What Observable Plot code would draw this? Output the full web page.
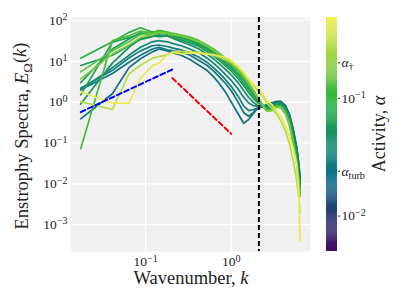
<!DOCTYPE html>
<html><head><meta charset="utf-8">
<script src="https://cdn.jsdelivr.net/npm/d3@7"></script>
<script src="https://cdn.jsdelivr.net/npm/@observablehq/plot@0.6"></script>
<style>
body{margin:0;background:#fff;}
#fig{position:relative;width:407px;height:305px;font-family:"Liberation Serif",serif;}
#fig svg{position:absolute;top:0;overflow:visible;font-family:"Liberation Serif",serif !important;}
#fig svg text{font-family:"Liberation Serif",serif !important;}
</style></head><body><div id="fig"></div>
<script>
// wavenumber grid (shared by all spectra)
const K = [0.0175, 0.041, 0.064, 0.087, 0.12, 0.143, 0.179, 0.21, 0.26, 0.33, 0.42, 0.52, 0.62, 0.72, 0.85, 1.0, 1.2, 1.4, 1.6, 1.8, 2.0, 2.3, 2.6, 3.0, 3.4, 3.8, 4.3, 4.8, 5.3, 5.8, 6.1, 6.35];
// activity of each spectrum
const alphas = [0.021, 0.025, 0.03, 0.036, 0.045, 0.055, 0.065, 0.07, 0.09, 0.12, 0.14, 0.17, 0.28, 0.45];
// enstrophy spectra, one array per activity
const E_021 = [0.39, 1.6, 7, 11.5, 17, 20, 18, 16, 14, 11, 8, 6, 4.2, 2.9, 1.8, 1.0, 0.52, 0.3, 0.38, 0.52, 0.68, 0.8, 0.86, 0.96, 1.04, 1.05, 0.82, 0.48, 0.21, 0.08, 0.035, 0.015];
const E_025 = [2.0, 5.0, 9.5, 14, 20, 22, 19, 18, 17, 14, 10.5, 8, 5.8, 4.2, 2.9, 1.9, 1.0, 0.55, 0.45, 0.55, 0.68, 0.78, 0.85, 0.95, 1.02, 1.03, 0.8, 0.46, 0.2, 0.075, 0.032, 0.013];
const E_030 = [2.2, 6, 12, 18, 24, 25, 23, 21, 19, 16, 12.5, 9.5, 7, 5.2, 3.6, 2.4, 1.4, 0.8, 0.62, 0.65, 0.72, 0.78, 0.84, 0.92, 1.0, 1.0, 0.78, 0.45, 0.19, 0.07, 0.03, 0.012];
const E_036 = [2.0, 7, 14, 22, 30, 32, 30, 27, 24, 20, 16, 12, 9, 6.8, 4.8, 3.4, 2.1, 1.3, 0.95, 0.82, 0.8, 0.78, 0.8, 0.88, 0.98, 0.96, 0.74, 0.42, 0.17, 0.06, 0.025, 0.01];
const E_045 = [0.9, 9, 22, 36, 42, 40, 42, 36, 30, 25, 20, 15, 11.5, 8.8, 6.4, 4.6, 3.0, 1.9, 1.3, 1.0, 0.85, 0.75, 0.72, 0.8, 0.92, 0.9, 0.7, 0.38, 0.15, 0.05, 0.02, 0.008];
const E_055 = [7.9, 14, 24, 34, 40, 44, 41, 38, 33, 28, 23, 17.5, 13.5, 10.5, 7.8, 5.7, 3.8, 2.5, 1.7, 1.25, 1.0, 0.8, 0.7, 0.78, 0.9, 0.88, 0.66, 0.36, 0.13, 0.045, 0.018, 0.007];
const E_065 = [3.0, 20, 35, 50, 45, 48, 46, 42, 36, 31, 25, 19.5, 15, 11.8, 8.8, 6.5, 4.4, 2.9, 2.0, 1.45, 1.1, 0.82, 0.68, 0.75, 0.88, 0.86, 0.64, 0.35, 0.125, 0.042, 0.017, 0.0065];
const E_070 = [1.5, 29.5, 38, 46, 53, 48, 50, 45, 38, 33, 27, 21, 16.5, 13, 9.8, 7.3, 5.0, 3.4, 2.3, 1.6, 1.2, 0.85, 0.65, 0.72, 0.86, 0.84, 0.62, 0.33, 0.12, 0.04, 0.016, 0.006];
const E_090 = [11.9, 30, 51, 66, 52, 55, 50, 46, 41, 36, 29, 23, 18.5, 14.5, 11, 8.3, 5.8, 3.9, 2.6, 1.8, 1.3, 0.85, 0.6, 0.68, 0.82, 0.8, 0.58, 0.3, 0.11, 0.037, 0.014, 0.0055];
const E_120 = [0.072, 32, 42, 55, 50, 57, 52, 48, 44, 39, 32, 25, 20, 16, 12, 9.5, 6.5, 4.4, 2.9, 2.0, 1.4, 0.9, 0.62, 0.65, 0.8, 0.78, 0.55, 0.28, 0.1, 0.035, 0.013, 0.005];
const E_140 = [5.5, 18, 30, 45, 48, 52, 49, 46, 43, 37, 31, 24.5, 19.5, 15.5, 11.8, 9.2, 6.4, 4.3, 2.85, 1.95, 1.38, 0.88, 0.61, 0.64, 0.78, 0.76, 0.53, 0.27, 0.095, 0.032, 0.012, 0.005];
const E_170 = [3.7, 15, 25, 38, 45, 50, 48, 44, 42, 36, 30, 24, 19, 15, 11.5, 9, 6.2, 4.2, 2.8, 1.9, 1.35, 0.85, 0.6, 0.62, 0.75, 0.72, 0.5, 0.25, 0.09, 0.03, 0.012, 0.005];
const E_280 = [1.03, 0.66, 4.9, 8.0, 11.9, 13, 14.4, 17, 17.5, 17, 16.5, 15.5, 14, 12.5, 11, 9.5, 7, 5, 3.5, 2.6, 2.0, 1.4, 0.95, 0.7, 0.5, 0.34, 0.19, 0.09, 0.035, 0.012, 0.005, 0.002];
const E_450 = [1.8, 0.94, 0.95, 3.8, 7.9, 9.0, 14.4, 16.5, 15.2, 16, 15.5, 15, 14.5, 13.5, 12.5, 10.5, 7.5, 5.2, 3.6, 2.8, 2.3, 1.6, 1.1, 0.85, 0.6, 0.43, 0.25, 0.14, 0.07, 0.03, 0.007, 0.0004];
const spectra = [E_021, E_025, E_030, E_036, E_045, E_055, E_065, E_070, E_090, E_120, E_140, E_170, E_280, E_450];
// reference slopes and cutoff
const blueK = [0.0175, 0.205], blueE = [0.57, 6.3];
const redK = [0.205, 1.0], redE = [3.9, 0.167];
const kCut = 2.1;
// tick values
const xTicks = [0.1, 1];
const yTicks = [1e-3, 1e-2, 1e-1, 1, 10, 100];
const cbTicks = [0.01, 0.024, 0.1, 0.2];
const cbLabels = ["10^-2", "α_turb", "10^-1", "α_†"];
const alphaDomain = [0.005, 0.485];

const cLog = d3.scaleLog().domain(alphaDomain).range([0, 1]);
const cmap = d3.scaleLinear()
  .domain([0, 0.15, 0.3, 0.45, 0.55, 0.65, 0.8, 1])
  .range(["#440c65", "#2b3870", "#0e6c8b", "#138873", "#1b9d57", "#2ab43c", "#8ccf40", "#f4ee4e"])
  .interpolate(d3.interpolateRgb);
const col = a => cmap(cLog(a));

const rows = [];
alphas.forEach((a, j) => K.forEach((k, i) => rows.push({k, E: spectra[j][i], a})));
const blue = blueK.map((k, i) => ({k, E: blueE[i]}));
const red = redK.map((k, i) => ({k, E: redE[i]}));
const fmt = d => "10^" + Math.round(Math.log10(d));

const FONT = "'Liberation Serif', serif";
const main = Plot.plot({
  width: 320, height: 305, marginLeft: 70, marginRight: 10, marginTop: 17, marginBottom: 54,
  style: {fontFamily: FONT, fontSize: "13.5px", background: "transparent", color: "#222"},
  x: {type: "log", domain: [0.0133, 8.4]},
  y: {type: "log", domain: [2.2e-4, 118]},
  color: {type: "identity"},
  marks: [
    Plot.frame({fill: "#f0f0f0", stroke: null}),
    Plot.gridX(xTicks, {stroke: "#fff", strokeOpacity: 1, strokeWidth: 1.2}),
    Plot.gridY(yTicks, {stroke: "#fff", strokeOpacity: 1, strokeWidth: 1.2}),
    Plot.axisX(xTicks, {tickSize: 0, tickPadding: 5, tickFormat: fmt, label: null}),
    Plot.axisY(yTicks, {tickSize: 0, tickPadding: 3, tickFormat: fmt, label: null}),
    Plot.line(rows, {x: "k", y: "E", z: "a", stroke: d => col(d.a), strokeWidth: 1.7}),
    Plot.line(blue, {x: "k", y: "E", stroke: "#0000ff", strokeWidth: 2, strokeDasharray: "5,3"}),
    Plot.line(red, {x: "k", y: "E", stroke: "#ff0000", strokeWidth: 2, strokeDasharray: "5,3"}),
    Plot.ruleX([kCut], {stroke: "#000", strokeWidth: 2, strokeDasharray: "5,3"})
  ]
});

const bands = d3.range(240).map(i => {
  const l0 = Math.log10(alphaDomain[0]), l1 = Math.log10(alphaDomain[1]);
  const lo = Math.pow(10, l0 + (l1 - l0) * i / 240), hi = Math.pow(10, l0 + (l1 - l0) * (i + 1.2) / 240);
  return {lo, hi: Math.min(hi, alphaDomain[1]), c: col(Math.sqrt(lo * Math.min(hi, alphaDomain[1])))};
});
const cb = Plot.plot({
  width: 87, height: 305, marginLeft: 6, marginRight: 70, marginTop: 17, marginBottom: 54,
  style: {fontFamily: FONT, fontSize: "13.5px", background: "transparent", color: "#222"},
  x: {domain: [0, 1], axis: null},
  y: {type: "log", domain: alphaDomain},
  color: {type: "identity"},
  marks: [
    Plot.rect(bands, {x1: () => 0, x2: () => 1, y1: "lo", y2: "hi", fill: "c"}),
    Plot.axisY(cbTicks, {anchor: "right", tickSize: 2, tickPadding: 2, label: null,
      tickFormat: d => cbLabels[cbTicks.indexOf(d)]})
  ]
});

function decorate(svg) {
  d3.select(svg).selectAll("text").each(function () {
    const t = this.textContent;
    this.setAttribute("font-family", FONT);
    if (t.includes("^")) {
      const [b, e] = t.split("^");
      this.textContent = b;
      d3.select(this).append("tspan").attr("dy", "-0.45em").attr("font-size", "0.75em").text(e.replace("-", "−"));
    } else if (t.includes("_")) {
      const [b, e] = t.split("_");
      this.textContent = "";
      d3.select(this).append("tspan").attr("font-style", "italic").text(b);
      d3.select(this).append("tspan").attr("dy", "0.3em").attr("font-size", "0.75em").text(e);
    }
  });
}
decorate(main); decorate(cb);

// axis titles
const ms = d3.select(main);
const yl = ms.append("text").attr("transform", "translate(28,136) rotate(-90)")
  .attr("text-anchor", "middle").attr("font-size", 18.5).attr("fill", "#222").attr("font-family", FONT);
yl.append("tspan").text("Enstrophy Spectra, ");
yl.append("tspan").attr("font-style", "italic").text("E");
yl.append("tspan").attr("dy", "0.3em").attr("font-size", "0.7em").text("Ω");
yl.append("tspan").attr("dy", "-0.3em").text("(");
yl.append("tspan").attr("font-style", "italic").text("k");
yl.append("tspan").text(")");
const xl = ms.append("text").attr("x", 191).attr("y", 284)
  .attr("text-anchor", "middle").attr("font-size", 18.5).attr("fill", "#222").attr("font-family", FONT);
xl.append("tspan").text("Wavenumber, ");
xl.append("tspan").attr("font-style", "italic").text("k");

const cl = d3.select(cb).append("text").attr("transform", "translate(65,134) rotate(-90)")
  .attr("text-anchor", "middle").attr("font-size", 18).attr("fill", "#222").attr("font-family", FONT);
cl.append("tspan").text("Activity, ");
cl.append("tspan").attr("font-style", "italic").text("α");

main.style.left = "0px";
cb.style.left = "320px";
const fig = document.getElementById("fig");
fig.appendChild(main);
fig.appendChild(cb);
</script></body></html>
